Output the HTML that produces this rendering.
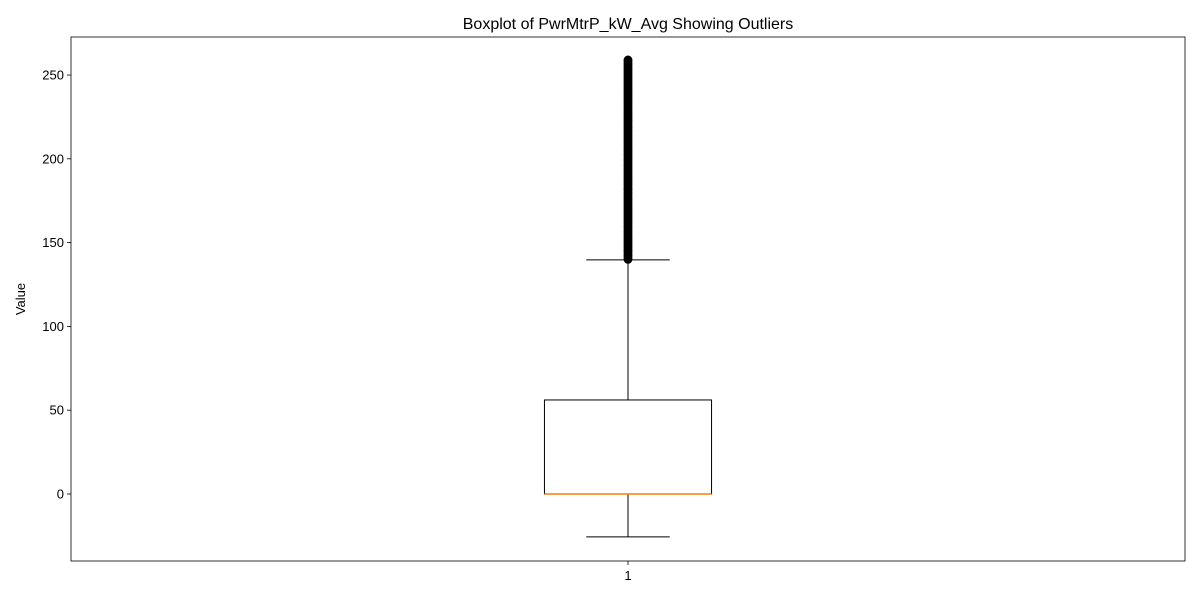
<!DOCTYPE html>
<html>
<head>
<meta charset="utf-8">
<style>
  html,body{margin:0;padding:0;background:#fff;}
  svg{display:block;font-family:"Liberation Sans","DejaVu Sans",sans-serif;}
</style>
</head>
<body>
<svg id="chart" width="1200" height="600" viewBox="0 0 1200 600" xmlns="http://www.w3.org/2000/svg"></svg>
<script>
const categories = ["1"];
const q1Values = [0];
const q3Values = [56.1];
const medianValues = [0];
const whiskerLow = [-25.6];
const whiskerHigh = [139.7];
const outlierValues = [140,141,142,143,144,145,146,147,148,149,150,151,152,153,154,155,156,157,158,159,160,161,162,163,164,165,166,167,168,169,170,171,172,173,174,175,176,177,178,179,180,181,182,183,184,185,186,187,188,189,190,191,192,193,194,195,196,197,198,199,200,201,202,203,204,205,206,207,208,209,210,211,212,213,214,215,216,217,218,219,220,221,222,223,224,225,226,227,228,229,230,231,232,233,234,235,236,237,238,239,240,241,242,243,244,245,246,247,248,249,250,251,252,253,254,255,256,257,258,259];
const yTicks = [0,50,100,150,200,250];

const NS = "http://www.w3.org/2000/svg";
const svg = document.getElementById("chart");
const L=71,R=1185,T=37,B=561;
const yMin=-40.0, yMax=272.7;
function y(v){return B-(v-yMin)/(yMax-yMin)*(B-T);}
function x(i){return L+(i+1-0.5)/1*(R-L);}
const bw=(R-L)*0.15;
function mk(tag,attrs,name){const e=document.createElementNS(NS,tag);for(const k in attrs)e.setAttribute(k,attrs[k]);


svg.appendChild(e);return e;}

mk("text",{x:628,y:29,"text-anchor":"middle","font-size":"16",fill:"#000"},"chart-title").textContent="Boxplot of PwrMtrP_kW_Avg Showing Outliers";
mk("text",{x:25,y:299,"text-anchor":"middle","font-size":"13",fill:"#000",transform:"rotate(-90 25 299)"},"y-axis-title").textContent="Value";

yTicks.forEach(t=>{
  const yy=y(t);
  mk("line",{x1:L-4,x2:L,y1:yy,y2:yy,stroke:"#000","stroke-width":0.8},"y-tick");
  const tx=mk("text",{x:L-7,y:yy+4.5,"text-anchor":"end","font-size":"13",fill:"#000"},"y-tick-label");tx.textContent=t;
});

categories.forEach((c,i)=>{
  const cx=x(i);
  mk("line",{x1:cx,x2:cx,y1:B,y2:B+4,stroke:"#000","stroke-width":0.8},"x-tick");
  const tx=mk("text",{x:cx,y:B+19,"text-anchor":"middle","font-size":"13",fill:"#000"},"x-tick-label");tx.textContent=c;
  mk("line",{x1:cx,x2:cx,y1:y(q3Values[i]),y2:y(whiskerHigh[i]),stroke:"#000","stroke-width":1},"upper-whisker");
  mk("line",{x1:cx,x2:cx,y1:y(q1Values[i]),y2:y(whiskerLow[i]),stroke:"#000","stroke-width":1},"lower-whisker");
  mk("line",{x1:cx-bw/4,x2:cx+bw/4,y1:y(whiskerHigh[i]),y2:y(whiskerHigh[i]),stroke:"#000","stroke-width":1},"upper-cap");
  mk("line",{x1:cx-bw/4,x2:cx+bw/4,y1:y(whiskerLow[i]),y2:y(whiskerLow[i]),stroke:"#000","stroke-width":1},"lower-cap");
  mk("rect",{x:cx-bw/2,y:y(q3Values[i]),width:bw,height:y(q1Values[i])-y(q3Values[i]),fill:"none",stroke:"#000","stroke-width":1},"box");
  mk("line",{x1:cx-bw/2,x2:cx+bw/2,y1:y(medianValues[i]),y2:y(medianValues[i]),stroke:"#ff7f0e","stroke-width":1.5},"median-line");
  outlierValues.forEach(v=>{
    mk("circle",{cx:cx,cy:y(v),r:3.3,fill:"none",stroke:"#000","stroke-width":2.2},"outlier-point");
  });
});

mk("rect",{x:L,y:T,width:R-L,height:B-T,fill:"none",stroke:"#000","stroke-width":0.8},"plot-frame");
</script>
</body>
</html>
